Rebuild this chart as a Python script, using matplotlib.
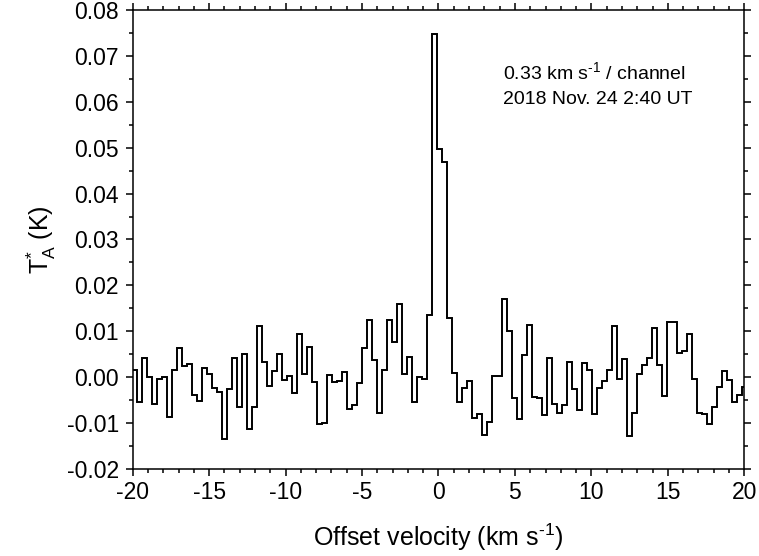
import numpy as np
import matplotlib
matplotlib.use("Agg")
import matplotlib.pyplot as plt
from matplotlib.ticker import MultipleLocator, FormatStrFormatter

plt.rcParams['font.family'] = ['Liberation Sans', 'DejaVu Sans']
plt.rcParams['mathtext.fontset'] = 'custom'
plt.rcParams['mathtext.rm'] = 'Liberation Sans'
plt.rcParams['mathtext.it'] = 'Liberation Sans'
plt.rcParams['axes.unicode_minus'] = False

# spectrum: antenna temperature per channel (K)
v_start = -20.07     # left edge of the first channel (km/s)
dv = 0.327           # channel width (km/s)
ta = [0.0016, -0.0055, 0.0041, 0.0001, -0.0059, -0.0005, 0.0000, -0.0087, 0.0015, 0.0063,
      0.0025, 0.0028, -0.0039, -0.0052, 0.0021, 0.0007, -0.0024, -0.0032, -0.0135, -0.0026,
      0.0041, -0.0065, 0.0051, -0.0112, -0.0065, 0.0112, 0.0033, -0.0019, 0.0014, 0.0050,
      -0.0007, 0.0003, -0.0034, 0.0095, 0.0006, 0.0065, -0.0010, -0.0101, -0.0099, 0.0005,
      -0.0010, -0.0008, 0.0012, -0.0070, -0.0061, -0.0013, 0.0063, 0.0124, 0.0037, -0.0077,
      0.0016, 0.0125, 0.0076, 0.0159, 0.0006, 0.0044, -0.0055, 0.0000, -0.0004, 0.0136,
      0.0747, 0.0497, 0.0468, 0.0129, 0.0010, -0.0055, -0.0024, -0.0008, -0.0088, -0.0081,
      -0.0127, -0.0097, 0.0003, 0.0003, 0.0171, 0.0100, -0.0046, -0.0091, 0.0049, 0.0114,
      -0.0043, -0.0045, -0.0083, 0.0041, -0.0059, -0.0077, -0.0061, 0.0033, -0.0026, -0.0072,
      0.0030, 0.0015, -0.0081, -0.0024, -0.0008, 0.0015, 0.0112, -0.0005, 0.0040, -0.0128,
      -0.0079, 0.0007, 0.0027, 0.0041, 0.0108, 0.0027, -0.0040, 0.0121, 0.0121, 0.0052,
      0.0056, 0.0095, -0.0005, -0.0079, -0.0081, -0.0103, -0.0066, -0.0021, 0.0014, -0.0007,
      -0.0055, -0.0039, -0.0022]

edges = v_start + dv * np.arange(len(ta) + 1)

fig = plt.figure(figsize=(7.59, 5.56), dpi=100)
ax = fig.add_axes([0.1748, 0.1565, 0.8058, 0.8255])

ax.stairs(ta, edges, baseline=None, color='black', linewidth=1.4)

ax.set_xlim(-20, 20)
ax.set_ylim(-0.02, 0.08)
ax.xaxis.set_major_locator(MultipleLocator(5))
ax.xaxis.set_minor_locator(MultipleLocator(1))
ax.yaxis.set_major_locator(MultipleLocator(0.01))
ax.yaxis.set_minor_locator(MultipleLocator(0.005))
ax.yaxis.set_major_formatter(FormatStrFormatter('%.2f'))

ax.tick_params(which='both', direction='out', top=True, right=True, width=1.1,
               labelsize=16.5, color='black')
ax.tick_params(which='major', length=5)
ax.tick_params(which='minor', length=3)
ax.tick_params(axis='y', which='major', pad=5)
ax.tick_params(axis='x', which='major', pad=4)
for s in ax.spines.values():
    s.set_linewidth(1.1)

ax.set_xlabel(r'Offset velocity (km s$^{\text{-1}}$)', fontsize=18, labelpad=12)
ax.set_ylabel(r'T$_\mathrm{A}^\mathrm{*}$ (K)', fontsize=18, labelpad=6)

ax.text(0.605, 0.865, r'0.33 km s$^{\text{-1}}$ / channel', transform=ax.transAxes,
        fontsize=14, ha='left', va='center')
ax.text(0.605, 0.806, '2018 Nov. 24 2:40 UT', transform=ax.transAxes,
        fontsize=14, ha='left', va='center')

fig.savefig('out.png', dpi=100)
